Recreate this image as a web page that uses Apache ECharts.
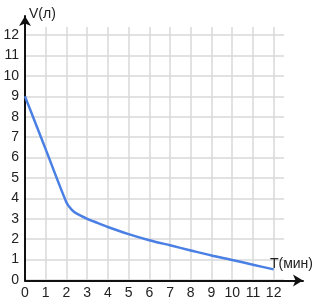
<!DOCTYPE html>
<html><head><meta charset="utf-8">
<script src="https://cdn.jsdelivr.net/npm/echarts@6/dist/echarts.min.js"></script>
<style>html,body{margin:0;padding:0;background:#fff}#c{width:321px;height:304px}</style>
</head><body><div id="c"></div>
<script>
const xTicks = [0,1,2,3,4,5,6,7,8,9,10,11,12];
const yTicks = [0,1,2,3,4,5,6,7,8,9,10,11,12];
const tValues = [0, 1, 2, 2.25, 2.5, 3, 3.5, 4, 5, 6, 7, 8, 9, 10, 11, 12];
const vValues = [9, 6.4, 3.8, 3.45, 3.25, 3.0, 2.8, 2.6, 2.25, 1.95, 1.7, 1.45, 1.2, 0.98, 0.75, 0.52];
const xName = 'T(мин)';
const yName = 'V(л)';

const font = 'Liberation Sans';
const chart = echarts.init(document.getElementById('c'), null, {renderer:'canvas'});
chart.setOption({
  animation: false,
  grid: [
    {left: 25, right: 37, top: 27, bottom: 24},
    {left: 25, right: 18, top: 16, bottom: 23.5}
  ],
  xAxis: [
    {gridIndex: 0, type: 'value', min: 0, max: 12.5, interval: 1,
     axisLine: {show: false}, axisTick: {show: false, customValues: xTicks},
     axisLabel: {customValues: xTicks, color: '#222', fontFamily: font, fontSize: 14, margin: 6},
     splitLine: {show: true, lineStyle: {color: '#d9d9d9', width: 1.5}}},
    {gridIndex: 1, type: 'value', min: 0, max: 1,
     axisLine: {show: true, lineStyle: {color: '#111', width: 2}, symbol: ['none', 'arrow'], symbolSize: [9, 10], symbolOffset: [0, 0]},
     axisTick: {show: false}, axisLabel: {show: false}, splitLine: {show: false},
     name: xName, nameLocation: 'end', nameGap: 10,
     nameTextStyle: {align: 'right', verticalAlign: 'bottom', color: '#222', fontFamily: font, fontSize: 14, padding: [0, 0, 9, 0]}}
  ],
  yAxis: [
    {gridIndex: 0, type: 'value', min: 0, max: 12.4, interval: 1,
     axisLine: {show: false}, axisTick: {show: false, customValues: yTicks},
     axisLabel: {customValues: yTicks, color: '#222', fontFamily: font, fontSize: 14, margin: 6},
     splitLine: {show: true, lineStyle: {color: '#d9d9d9', width: 1.5}}},
    {gridIndex: 1, type: 'value', min: 0, max: 1,
     axisLine: {show: true, lineStyle: {color: '#111', width: 2}, symbol: ['none', 'arrow'], symbolSize: [9, 10]},
     axisTick: {show: false}, axisLabel: {show: false}, splitLine: {show: false},
     name: yName, nameLocation: 'end', nameGap: 2,
     nameTextStyle: {align: 'left', verticalAlign: 'middle', color: '#222', fontFamily: font, fontSize: 14, padding: [0, 0, 0, 4]}}
  ],
  series: [{
    type: 'line', xAxisIndex: 0, yAxisIndex: 0,
    data: tValues.map((t, i) => [t, vValues[i]]),
    showSymbol: false, smooth: 0.25,
    lineStyle: {color: '#4a7fe3', width: 2.5}
  }]
});
</script></body></html>
